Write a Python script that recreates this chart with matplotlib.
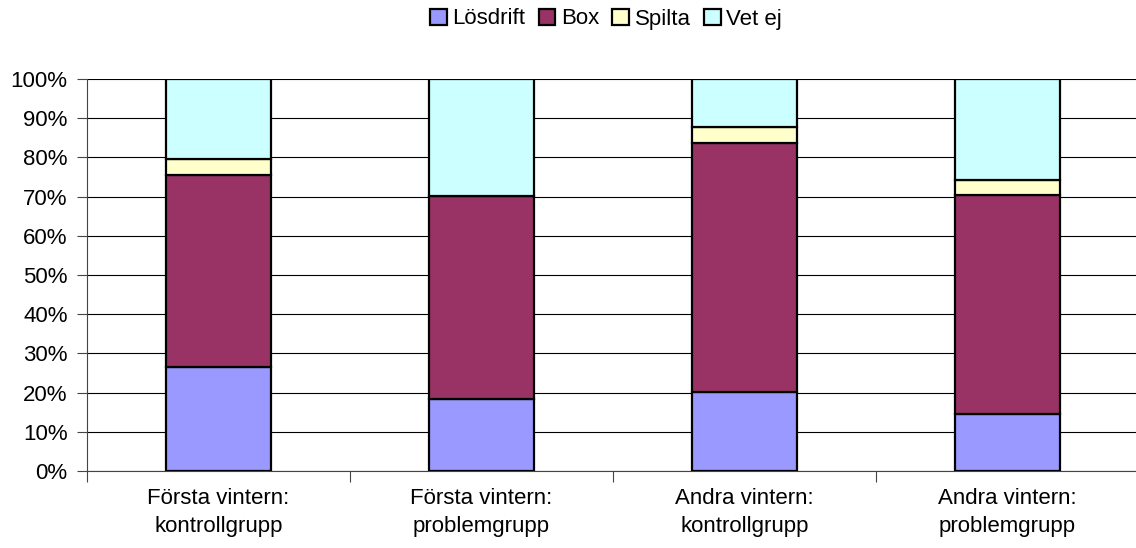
import numpy as np
import matplotlib
matplotlib.use("Agg")
import matplotlib.pyplot as plt
from matplotlib.ticker import PercentFormatter

plt.rcParams['font.family'] = ['Liberation Sans', 'DejaVu Sans']

categories = ["Första vintern:\nkontrollgrupp", "Första vintern:\nproblemgrupp",
              "Andra vintern:\nkontrollgrupp", "Andra vintern:\nproblemgrupp"]
series = ["Lösdrift", "Box", "Spilta", "Vet ej"]
losdrift = [26.6, 18.4, 20.2, 14.6]
box = [48.9, 51.8, 63.6, 55.8]
spilta = [4.0, 0.0, 3.9, 3.8]
vet_ej = [20.5, 29.8, 12.3, 25.8]
colors = ["#9999FF", "#993366", "#FFFFCC", "#CCFFFF"]

fig = plt.figure(figsize=(11.36, 5.48), dpi=100)
ax = fig.add_axes([87/1136, 1-471/548, 1-87/1136, 392/548])

x = np.arange(len(categories))
bottom = np.zeros(len(categories))
handles = []
for name, vals, col in zip(series, [losdrift, box, spilta, vet_ej], colors):
    vals = np.array(vals)
    h = ax.bar(x, vals, 0.4, bottom=bottom, color=col, edgecolor="black",
               linewidth=1.6, label=name, zorder=3)
    handles.append(h)
    bottom += vals

ax.set_ylim(0, 100)
ax.set_xlim(-0.5, 3.49)
ax.set_yticks(np.arange(0, 101, 10))
ax.yaxis.set_major_formatter(PercentFormatter(decimals=0))
ax.yaxis.grid(True, color="black", linewidth=0.8, zorder=0)
ax.set_axisbelow(True)

ax.set_xticks(x)
ax.set_xticklabels(categories, fontsize=16, linespacing=1.45)
ax.set_xticks([-0.5, 0.5, 1.5, 2.5], minor=True)
ax.tick_params(axis="x", which="major", length=0, pad=12)
ax.tick_params(axis="x", which="minor", length=8, width=0.8, color="#444444")
ax.tick_params(axis="y", length=7, width=0.8, labelsize=16, pad=7, color="#444444")

for s in ["top", "right"]:
    ax.spines[s].set_visible(False)
ax.spines["left"].set_color("#444444")
ax.spines["left"].set_linewidth(0.8)
ax.spines["bottom"].set_color("#444444")
ax.spines["bottom"].set_linewidth(0.8)

fig.legend(handles=handles, labels=series, loc="center", bbox_to_anchor=(606/1136, 1-19/548),
           ncol=4, frameon=False, fontsize=16, handlelength=0.75, handleheight=0.75,
           handletextpad=0.25, columnspacing=0.6, borderpad=0)

fig.savefig("out.png", dpi=100)
